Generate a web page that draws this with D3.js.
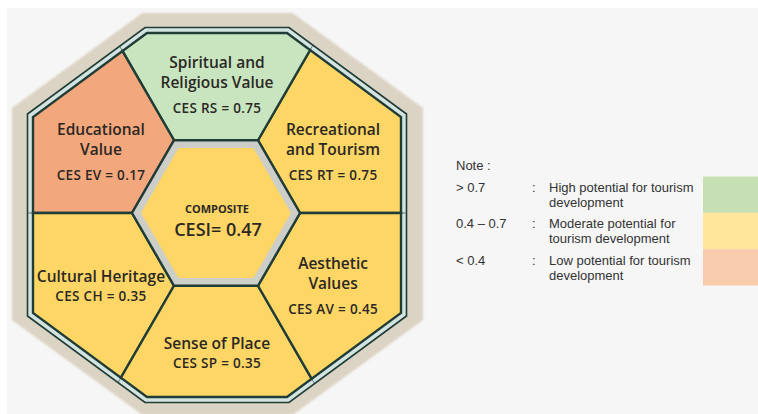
<!DOCTYPE html>
<html><head><meta charset="utf-8">
<script src="https://cdn.jsdelivr.net/npm/d3@7"></script>
<style>html,body{margin:0;padding:0;background:#fff;}svg{display:block;}</style>
</head><body>
<svg id="chart" width="758" height="414"></svg>
<script>
// ---- data ----
const sectorTitles = [["Recreational","and Tourism"],["Spiritual and","Religious Value"],["Educational","Value"],["Cultural Heritage"],["Sense of Place"],["Aesthetic","Values"]];
const sectorCodes = ["RT","RS","EV","CH","SP","AV"];
const sectorValues = [0.75,0.75,0.17,0.35,0.35,0.45];
const sectorLevels = ["moderate","high","low","moderate","moderate","moderate"];
const compositeLabel = "COMPOSITE";
const compositeValue = 0.47;
const legendLevels = ["high","moderate","low"];
const legendRanges = ["> 0.7","0.4 \u2013 0.7","< 0.4"];
const legendLabels = [["High potential for tourism","development"],["Moderate potential for","tourism development"],["Low potential for tourism","development"]];

// ---- styles ----
const sectorColor = d3.scaleOrdinal().domain(legendLevels).range(["#c8e5bf","#fdd665","#f3a77d"]);
const legendColor = d3.scaleOrdinal().domain(legendLevels).range(["#c6e0b4","#ffe699","#f8cbad"]);
const dark = "#203c37";
const fmt = d3.format(".2f");

const svg = d3.select("#chart");
svg.append("rect").attr("x",7).attr("y",8).attr("width",751).attr("height",406).attr("fill","#f6f6f6");

function octagon(cx, cy, hw, hh, a, b){
  return [[cx-a,cy-hh],[cx+a,cy-hh],[cx+hw,cy-b],[cx+hw,cy+b],[cx+a,cy+hh],[cx-a,cy+hh],[cx-hw,cy+b],[cx-hw,cy-b]];
}
const line = d3.line().curve(d3.curveLinearClosed);

const beige = octagon(217.5,214,205.5,201,75,106);
const outer = octagon(217,215,189.5,187.5,72,101);
const inner = octagon(217,215,184,182,70,98);

const defs = svg.append("defs");
defs.append("filter").attr("id","soft").append("feGaussianBlur").attr("stdDeviation",1.2);

svg.append("path").attr("d",line(beige)).attr("fill","#dbd3c3").attr("filter","url(#soft)");
svg.append("path").attr("d",line(outer)).attr("fill","#d3e4e0").attr("stroke",dark).attr("stroke-width",1.6);

// hexagon
const hx = 216, hy = 213, hR = 84, hRin = 75;
const toRad = d => d*Math.PI/180;
const polar = (cx,cy,r,deg) => [cx + r*Math.cos(toRad(deg)), cy - r*Math.sin(toRad(deg))];
const hexAngles = d3.range(6).map(i => i*60);
const hexPts = hexAngles.map(a => polar(hx,hy,hR,a));

function rayHit(poly, ox, oy, deg){
  const dx = Math.cos(toRad(deg)), dy = -Math.sin(toRad(deg));
  let best = null;
  for (let i=0;i<poly.length;i++){
    const p = poly[i], q = poly[(i+1)%poly.length];
    const ex = q[0]-p[0], ey = q[1]-p[1];
    const den = dx*ey - dy*ex;
    if (Math.abs(den) < 1e-9) continue;
    const t = ((p[0]-ox)*ey - (p[1]-oy)*ex)/den;
    const u = ((p[0]-ox)*dy - (p[1]-oy)*dx)/den;
    if (t > 0 && u >= 0 && u <= 1 && (best===null || t < best)) best = t;
  }
  return [ox + best*dx, oy + best*dy];
}
const angleOf = p => { let a = Math.atan2(-(p[1]-hy), p[0]-hx)*180/Math.PI; return (a+360)%360; };

const sectors = sectorTitles.map((t,i) => {
  const a0 = hexAngles[i], a1 = a0 + 60;
  const v0 = hexPts[i], v1 = hexPts[(i+1)%6];
  const e0 = rayHit(inner, v0[0], v0[1], a0), e1 = rayHit(inner, v1[0], v1[1], a1 % 360);
  const mids = inner.map(p => ({p, a: angleOf(p)}))
    .map(o => ({p:o.p, a: (o.a < a0 ? o.a + 360 : o.a)}))
    .filter(o => o.a > a0 && o.a < a1)
    .sort((m,n) => m.a - n.a).map(o => o.p);
  return {poly:[v0, e0, ...mids, e1, v1], title:t, code:sectorCodes[i], value:sectorValues[i], level:sectorLevels[i], mid:a0+30};
});

svg.append("g").selectAll("path").data(sectors).join("path")
  .attr("d", d => line(d.poly))
  .attr("fill", d => sectorColor(d.level))
  .attr("stroke", dark).attr("stroke-width",2.4).attr("stroke-linejoin","miter");

// spoke continuations across the border band
hexAngles.forEach((a,i) => {
  const e = rayHit(inner, hexPts[i][0], hexPts[i][1], a);
  const o = rayHit(outer, hexPts[i][0], hexPts[i][1], a);
  svg.append("line").attr("x1",e[0]).attr("y1",e[1]).attr("x2",o[0]).attr("y2",o[1])
    .attr("stroke",dark).attr("stroke-width",1).attr("opacity",0.6);
});

// central hexagon
svg.append("path").attr("d", line(hexPts)).attr("fill","#cdcec8").attr("stroke",dark).attr("stroke-width",2.4);
svg.append("path").attr("d", line(hexAngles.map(a => polar(hx,hy,hRin,a)))).attr("fill",sectorColor("moderate"));

const font = "'Open Sans', sans-serif";
const txtColor = "#2b2824";
svg.append("text").attr("x",217).attr("y",212.5).attr("text-anchor","middle")
  .attr("font-family",font).attr("font-weight",700).attr("font-size",11).attr("fill",txtColor).text(compositeLabel);
svg.append("text").attr("x",218).attr("y",236).attr("text-anchor","middle")
  .attr("font-family",font).attr("font-weight",600).attr("font-size",18).attr("fill",txtColor).text("CESI= " + fmt(compositeValue));

// sector labels
const labelCx = 217, labelCy = 224, labelR = 134;
sectors.forEach(s => {
  const c = polar(labelCx, labelCy, labelR, s.mid);
  const n = s.title.length;
  const gap = n > 1 ? 25 : 19;
  const total = (n-1)*20 + gap;
  const y0 = c[1] - total/2;
  const g = svg.append("g").attr("font-family",font).attr("fill",txtColor).attr("text-anchor","middle");
  s.title.forEach((ln,j) => {
    g.append("text").attr("x",c[0]).attr("y",y0 + j*20).attr("font-size",15.5).attr("font-weight",600).text(ln);
  });
  g.append("text").attr("x",c[0]).attr("y",y0 + (n-1)*20 + gap).attr("font-size",13.5).attr("font-weight",600)
    .attr("letter-spacing",0.3).text("CES " + s.code + " = " + fmt(s.value));
});

// legend
const lg = svg.append("g").attr("font-family","'Liberation Sans', Arial, sans-serif").attr("font-size",13).attr("fill","#333");
lg.append("text").attr("x",456).attr("y",170).text("Note :");
const rowY = d3.scaleBand().domain(legendLevels).range([176.5,285.5]);
legendLevels.forEach((lv,i) => {
  const y = rowY(lv);
  lg.append("rect").attr("x",703).attr("y",y).attr("width",55).attr("height",rowY.bandwidth()).attr("fill",legendColor(lv));
  lg.append("text").attr("x",456).attr("y",y+15.5).text(legendRanges[i]);
  lg.append("text").attr("x",532).attr("y",y+15.5).text(":");
  legendLabels[i].forEach((t,j) => lg.append("text").attr("x",549).attr("y",y+15.5+j*15).text(t));
});
</script>
</body></html>
